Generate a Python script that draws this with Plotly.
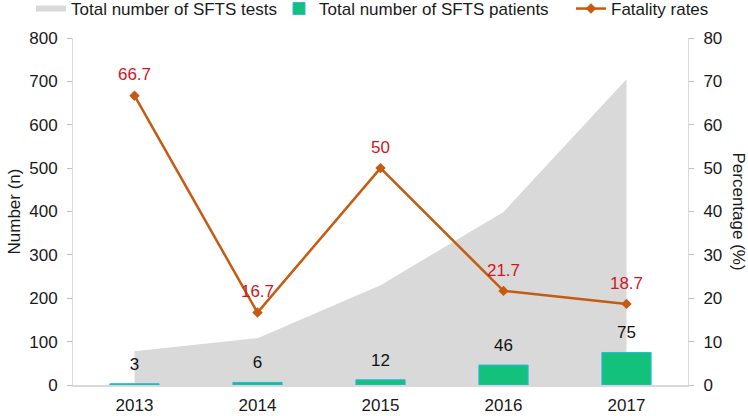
import plotly.graph_objects as go

years = ["2013", "2014", "2015", "2016", "2017"]
tests = [78, 108, 230, 399, 705]
patients = [3, 6, 12, 46, 75]
fatality = [66.7, 16.7, 50, 21.7, 18.7]
fatality_labels = ["66.7", "16.7", "50", "21.7", "18.7"]

FONT = "Arial, Liberation Sans, sans-serif"
TXT = "#1a1a1a"
FS = 17

fig = go.Figure()
fig.add_trace(go.Scatter(
    x=years, y=tests, name="Total number of SFTS tests",
    mode="none", fill="tozeroy", fillcolor="#d9d9d9",
    yaxis="y", hoverinfo="skip", legend="legend"))
fig.add_trace(go.Bar(
    x=years, y=patients, name="Total number of SFTS patients",
    marker=dict(color="#13c17c", line=dict(color="#27b8e3", width=1)),
    width=0.4, yaxis="y2", legend="legend2"))
fig.add_trace(go.Scatter(
    x=years, y=patients, mode="markers+text", showlegend=False,
    marker=dict(size=14, opacity=0), text=[str(v) for v in patients],
    textposition="top center", textfont=dict(color="#111111", size=FS, family=FONT),
    cliponaxis=False, yaxis="y2", hoverinfo="skip"))
fig.add_trace(go.Scatter(
    x=years, y=fatality, name="Fatality rates",
    mode="lines+markers",
    line=dict(color="#c55a11", width=2.5),
    marker=dict(symbol="diamond", size=8, color="#c55a11"),
    cliponaxis=False, yaxis="y3", legend="legend3"))
fig.add_trace(go.Scatter(
    x=years, y=fatality, mode="markers+text", showlegend=False,
    marker=dict(size=16, opacity=0), text=fatality_labels,
    textposition="top center", textfont=dict(color="#d0161e", size=FS, family=FONT),
    cliponaxis=False, yaxis="y3", hoverinfo="skip"))

tickfont = dict(size=FS, color=TXT, family=FONT)

def leg(xpx):
    return dict(orientation="h", xref="container", yref="container",
                x=xpx / 748, xanchor="left", y=1 - 9 / 416, yanchor="middle",
                font=dict(size=FS, family=FONT, color=TXT),
                bgcolor="rgba(0,0,0,0)")

fig.update_layout(
    width=748, height=416,
    margin=dict(l=73, r=60, t=38, b=31, autoexpand=False),
    paper_bgcolor="white", plot_bgcolor="white",
    font=dict(family=FONT, size=FS, color=TXT),
    showlegend=True,
    legend=leg(31), legend2=leg(279), legend3=leg(571),
    xaxis=dict(type="category", showline=True, linecolor="#d9d9d9", linewidth=1.5,
               ticks="", showgrid=False, tickfont=tickfont, zeroline=False,
               ticklabelstandoff=4),
    yaxis=dict(range=[0, 800], dtick=100, showline=True, linecolor="#d9d9d9",
               ticks="outside", ticklen=5, tickcolor="#bfbfbf", showgrid=False,
               zeroline=False, tickfont=tickfont, ticklabelstandoff=6),
    yaxis2=dict(range=[0, 800], overlaying="y", visible=False),
    yaxis3=dict(range=[0, 80], dtick=10, overlaying="y", side="right", showline=True,
                linecolor="#d9d9d9", ticks="outside", ticklen=5, tickcolor="#bfbfbf",
                showgrid=False, zeroline=False, tickfont=tickfont, ticklabelstandoff=6),
    annotations=[
        dict(text="Number (n)", xref="paper", yref="paper", x=0, y=0.5,
             xanchor="center", yanchor="middle", textangle=-90, showarrow=False,
             font=dict(size=FS, family=FONT, color=TXT), xshift=-59),
        dict(text="Percentage (%)", xref="paper", yref="paper", x=1.0, y=0.5,
             xanchor="center", yanchor="middle", textangle=90, showarrow=False,
             font=dict(size=FS, family=FONT, color=TXT), xshift=50),
    ],
)

fig.write_html("out.html", config={"displayModeBar": False},
               post_script="document.body.style.margin='0';")
